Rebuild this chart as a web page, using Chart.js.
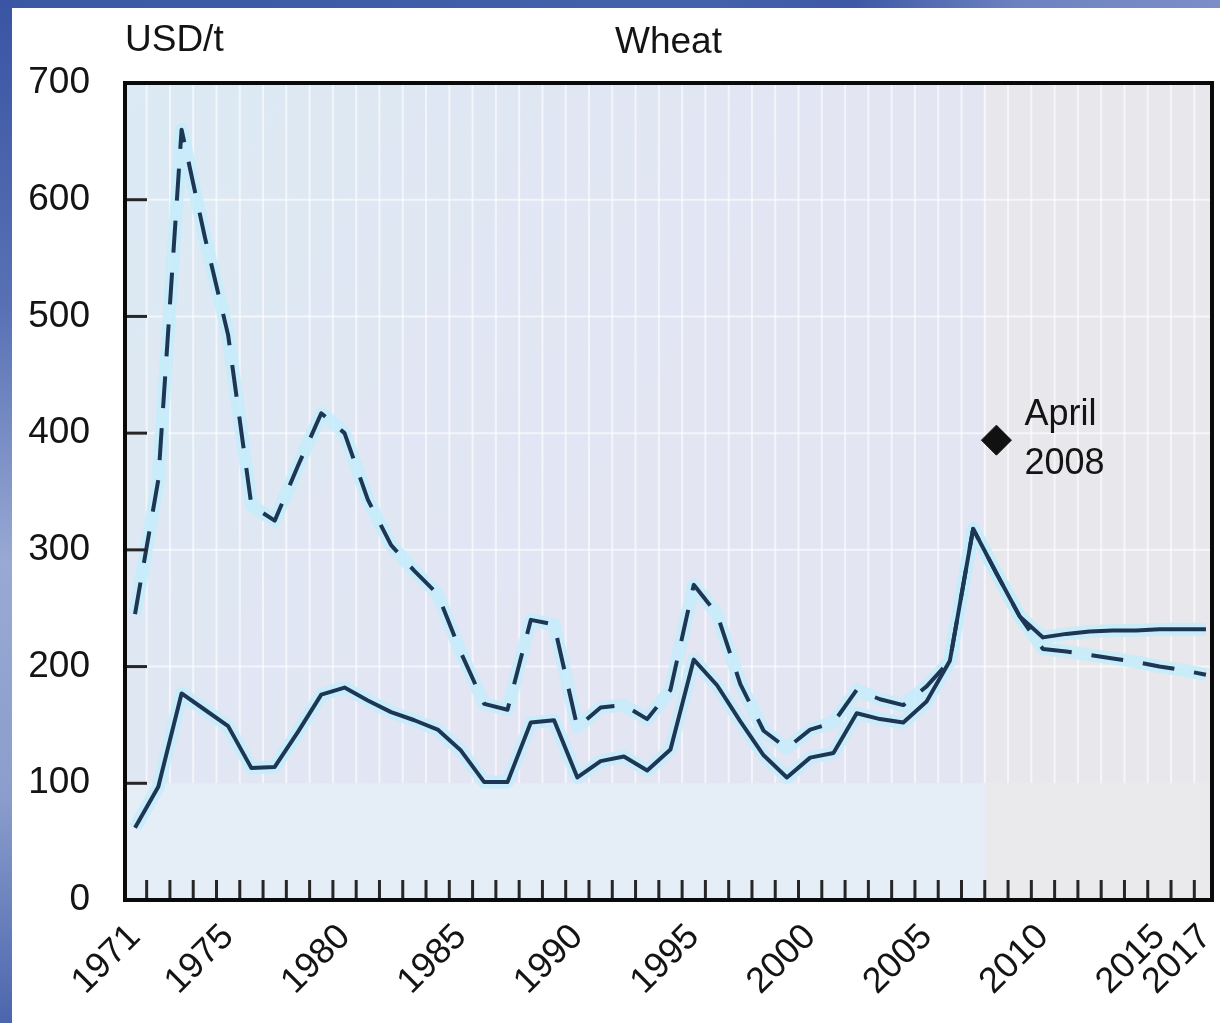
<!DOCTYPE html>
<html>
<head>
<meta charset="utf-8">
<title>Wheat</title>
<script src="https://cdn.jsdelivr.net/npm/chart.js@4.4.0/dist/chart.umd.min.js"></script>
<style>
  body { margin: 0; background: #fff; overflow: hidden; }
  #wrap { position: relative; width: 1220px; height: 1023px; overflow: hidden; background: #fff; }
  #bandTop { position: absolute; left: 0; top: 0; width: 1220px; height: 8px;
    background: linear-gradient(90deg, #3a57a4 0%, #4461ac 58%, #3e5aa7 70%, #6f83c2 84%, #7b8ec8 100%); }
  #bandLeft { position: absolute; left: 0; top: 0; width: 12px; height: 1023px;
    background: linear-gradient(180deg, #3955a3 0%, #5871b5 30%, #98a9d3 55%, #8a9dcc 78%, #4b66ad 100%); }
  canvas { position: absolute; left: 0; top: 0; }
</style>
</head>
<body>
<div id="wrap">
  <div id="bandTop"></div>
  <div id="bandLeft"></div>
  <!-- a bit wider than the page: Chart.js keeps a strip on the right for the last rotated label -->
  <canvas id="chart" width="1228" height="1023"></canvas>
</div>
<script>
// wheat price, USD per tonne
const years = [1971, 1972, 1973, 1974, 1975, 1976, 1977, 1978, 1979, 1980,
  1981, 1982, 1983, 1984, 1985, 1986, 1987, 1988, 1989, 1990,
  1991, 1992, 1993, 1994, 1995, 1996, 1997, 1998, 1999, 2000,
  2001, 2002, 2003, 2004, 2005, 2006, 2007, 2008, 2009, 2010,
  2011, 2012, 2013, 2014, 2015, 2016, 2017];
const nominalPrice = [62, 97, 177, 163, 149, 113, 114, 144, 176, 182,
  171, 161, 154, 146, 128, 101, 101, 152, 154, 105,
  119, 123, 111, 129, 206, 184, 153, 124, 105, 122,
  126, 160, 155, 152, 170, 205, 318, 280, 243, 225,
  228, 230, 231, 231, 232, 232, 232];
const realPrice = [245, 360, 660, 568, 484, 338, 325, 372, 417, 400,
  343, 304, 282, 262, 212, 168, 163, 240, 236, 148,
  165, 167, 155, 180, 270, 245, 185, 145, 130, 146,
  152, 180, 172, 167, 183, 205, 318, 280, 243, 215,
  213, 210, 207, 204, 200, 197, 193];
const xTickYears = [1971, 1975, 1980, 1985, 1990, 1995, 2000, 2005, 2010, 2015, 2017];
const yTickValues = [0, 100, 200, 300, 400, 500, 600, 700];
const projectionStart = 2007.5;
const aprilYear = 2008;
const aprilPrice = 394;
const aprilLabel = ['April', '2008'];
const chartTitle = 'Wheat';
const unitLabel = 'USD/t';

const FONT = '"Liberation Sans", Arial, sans-serif';
const LINE = '#1d3654';
const HALO = 'rgba(196, 236, 250, 0.85)';

const toPoints = vals => years.map((yr, i) => ({ x: yr, y: vals[i] }));

const backdrop = {
  id: 'backdrop',
  beforeDatasetsDraw(chart) {
    const { ctx, chartArea: a, scales: { x, y } } = chart;
    const xp = x.getPixelForValue(projectionStart);
    const y100 = y.getPixelForValue(100);
    ctx.save();
    const g = ctx.createLinearGradient(a.left, a.top, a.left + 520, a.top + 320);
    g.addColorStop(0, '#dbeaf4');
    g.addColorStop(1, '#e3e5f3');
    ctx.fillStyle = g;
    ctx.fillRect(a.left, a.top, xp - a.left, a.bottom - a.top);
    ctx.fillStyle = '#e8e8ec';
    ctx.fillRect(xp, a.top, a.right - xp, a.bottom - a.top);

    // faint white grid
    ctx.strokeStyle = 'rgba(255,255,255,0.6)';
    ctx.lineWidth = 2;
    years.slice(0, -1).forEach(yr => {
      const px = x.getPixelForValue(yr + 0.5);
      ctx.beginPath();
      ctx.moveTo(px, a.top);
      ctx.lineTo(px, y100);
      ctx.stroke();
    });
    yTickValues.slice(2, -1).forEach(v => {
      const py = y.getPixelForValue(v);
      ctx.beginPath();
      ctx.moveTo(a.left, py);
      ctx.lineTo(a.right, py);
      ctx.stroke();
    });

    // lower band
    ctx.fillStyle = '#e5edf7';
    ctx.fillRect(a.left, y100, xp - a.left, a.bottom - y100);
    ctx.fillStyle = '#eaeaed';
    ctx.fillRect(xp, y100, a.right - xp, a.bottom - y100);
    ctx.restore();
  },
  afterDatasetsDraw(chart) {
    const { ctx, chartArea: a, scales: { x, y } } = chart;
    ctx.save();
    ctx.strokeStyle = '#262626';
    ctx.lineWidth = 3;
    years.slice(0, -1).forEach(yr => {
      const px = x.getPixelForValue(yr + 0.5);
      ctx.beginPath();
      ctx.moveTo(px, a.bottom);
      ctx.lineTo(px, a.bottom - 20);
      ctx.stroke();
    });
    yTickValues.forEach(v => {
      const py = y.getPixelForValue(v);
      ctx.beginPath();
      ctx.moveTo(a.left, py);
      ctx.lineTo(a.left + 22, py);
      ctx.stroke();
    });
    ctx.strokeStyle = '#0a0a0a';
    ctx.lineWidth = 4;
    ctx.strokeRect(a.left, a.top, a.right - a.left, a.bottom - a.top);
    ctx.restore();
  },
  afterDraw(chart) {
    const { ctx, chartArea: a, scales: { x, y } } = chart;
    ctx.save();
    ctx.font = '37px ' + FONT;
    ctx.fillStyle = '#141414';
    ctx.textBaseline = 'middle';
    ctx.textAlign = 'left';
    ctx.fillText(unitLabel, a.left, 41);
    ctx.textAlign = 'center';
    ctx.fillText(chartTitle, (a.left + a.right) / 2, 43);
    const px = x.getPixelForValue(aprilYear);
    const py = y.getPixelForValue(aprilPrice);
    ctx.font = '36px ' + FONT;
    ctx.textAlign = 'left';
    ctx.fillText(aprilLabel[0], px + 28, py - 25);
    ctx.fillText(aprilLabel[1], px + 28, py + 24);
    ctx.restore();
  }
};

new Chart(document.getElementById('chart'), {
  type: 'line',
  data: {
    datasets: [
      {
        label: 'April 2008',
        data: [{ x: aprilYear, y: aprilPrice }],
        showLine: false,
        pointStyle: 'rectRot',
        pointRadius: 15,
        pointBackgroundColor: '#111',
        pointBorderColor: '#111',
        order: 1
      },
      {
        label: 'Nominal',
        data: toPoints(nominalPrice),
        borderColor: LINE,
        borderWidth: 4,
        borderJoinStyle: 'round',
        pointRadius: 0,
        tension: 0,
        order: 2
      },
      {
        label: 'Real',
        data: toPoints(realPrice),
        borderColor: LINE,
        borderWidth: 4,
        borderDash: [32, 20],
        borderJoinStyle: 'round',
        pointRadius: 0,
        tension: 0,
        order: 2
      },
      {
        label: 'halo nominal',
        data: toPoints(nominalPrice),
        borderColor: HALO,
        borderWidth: 13,
        borderJoinStyle: 'round',
        pointRadius: 0,
        tension: 0,
        order: 3
      },
      {
        label: 'halo real',
        data: toPoints(realPrice),
        borderColor: HALO,
        borderWidth: 13,
        borderJoinStyle: 'round',
        pointRadius: 0,
        tension: 0,
        order: 3
      }
    ]
  },
  options: {
    responsive: false,
    animation: false,
    layout: { padding: { top: 83, right: 0, left: 0, bottom: 0 } },
    plugins: {
      legend: { display: false },
      tooltip: { enabled: false }
    },
    scales: {
      x: {
        type: 'linear',
        min: 1970.57,
        max: 2017.26,
        afterBuildTicks(scale) {
          scale.ticks = xTickYears.map(v => ({ value: v }));
        },
        afterFit(scale) {
          scale.height = 123;
          scale.paddingLeft = 0;
          scale.paddingRight = 0;
        },
        grid: { display: false, drawTicks: true, tickLength: 16 },
        border: { display: false },
        ticks: {
          autoSkip: false,
          minRotation: 45,
          maxRotation: 45,
          padding: 0,
          color: '#141414',
          font: { size: 36, family: FONT },
          callback: v => String(v)
        }
      },
      y: {
        min: 0,
        max: 700,
        afterFit(scale) { scale.width = 125; },
        grid: { display: false, drawTicks: false },
        border: { display: false },
        ticks: {
          stepSize: 100,
          padding: 35,
          color: '#141414',
          font: { size: 37, family: FONT }
        }
      }
    }
  },
  plugins: [backdrop]
});
</script>
</body>
</html>
